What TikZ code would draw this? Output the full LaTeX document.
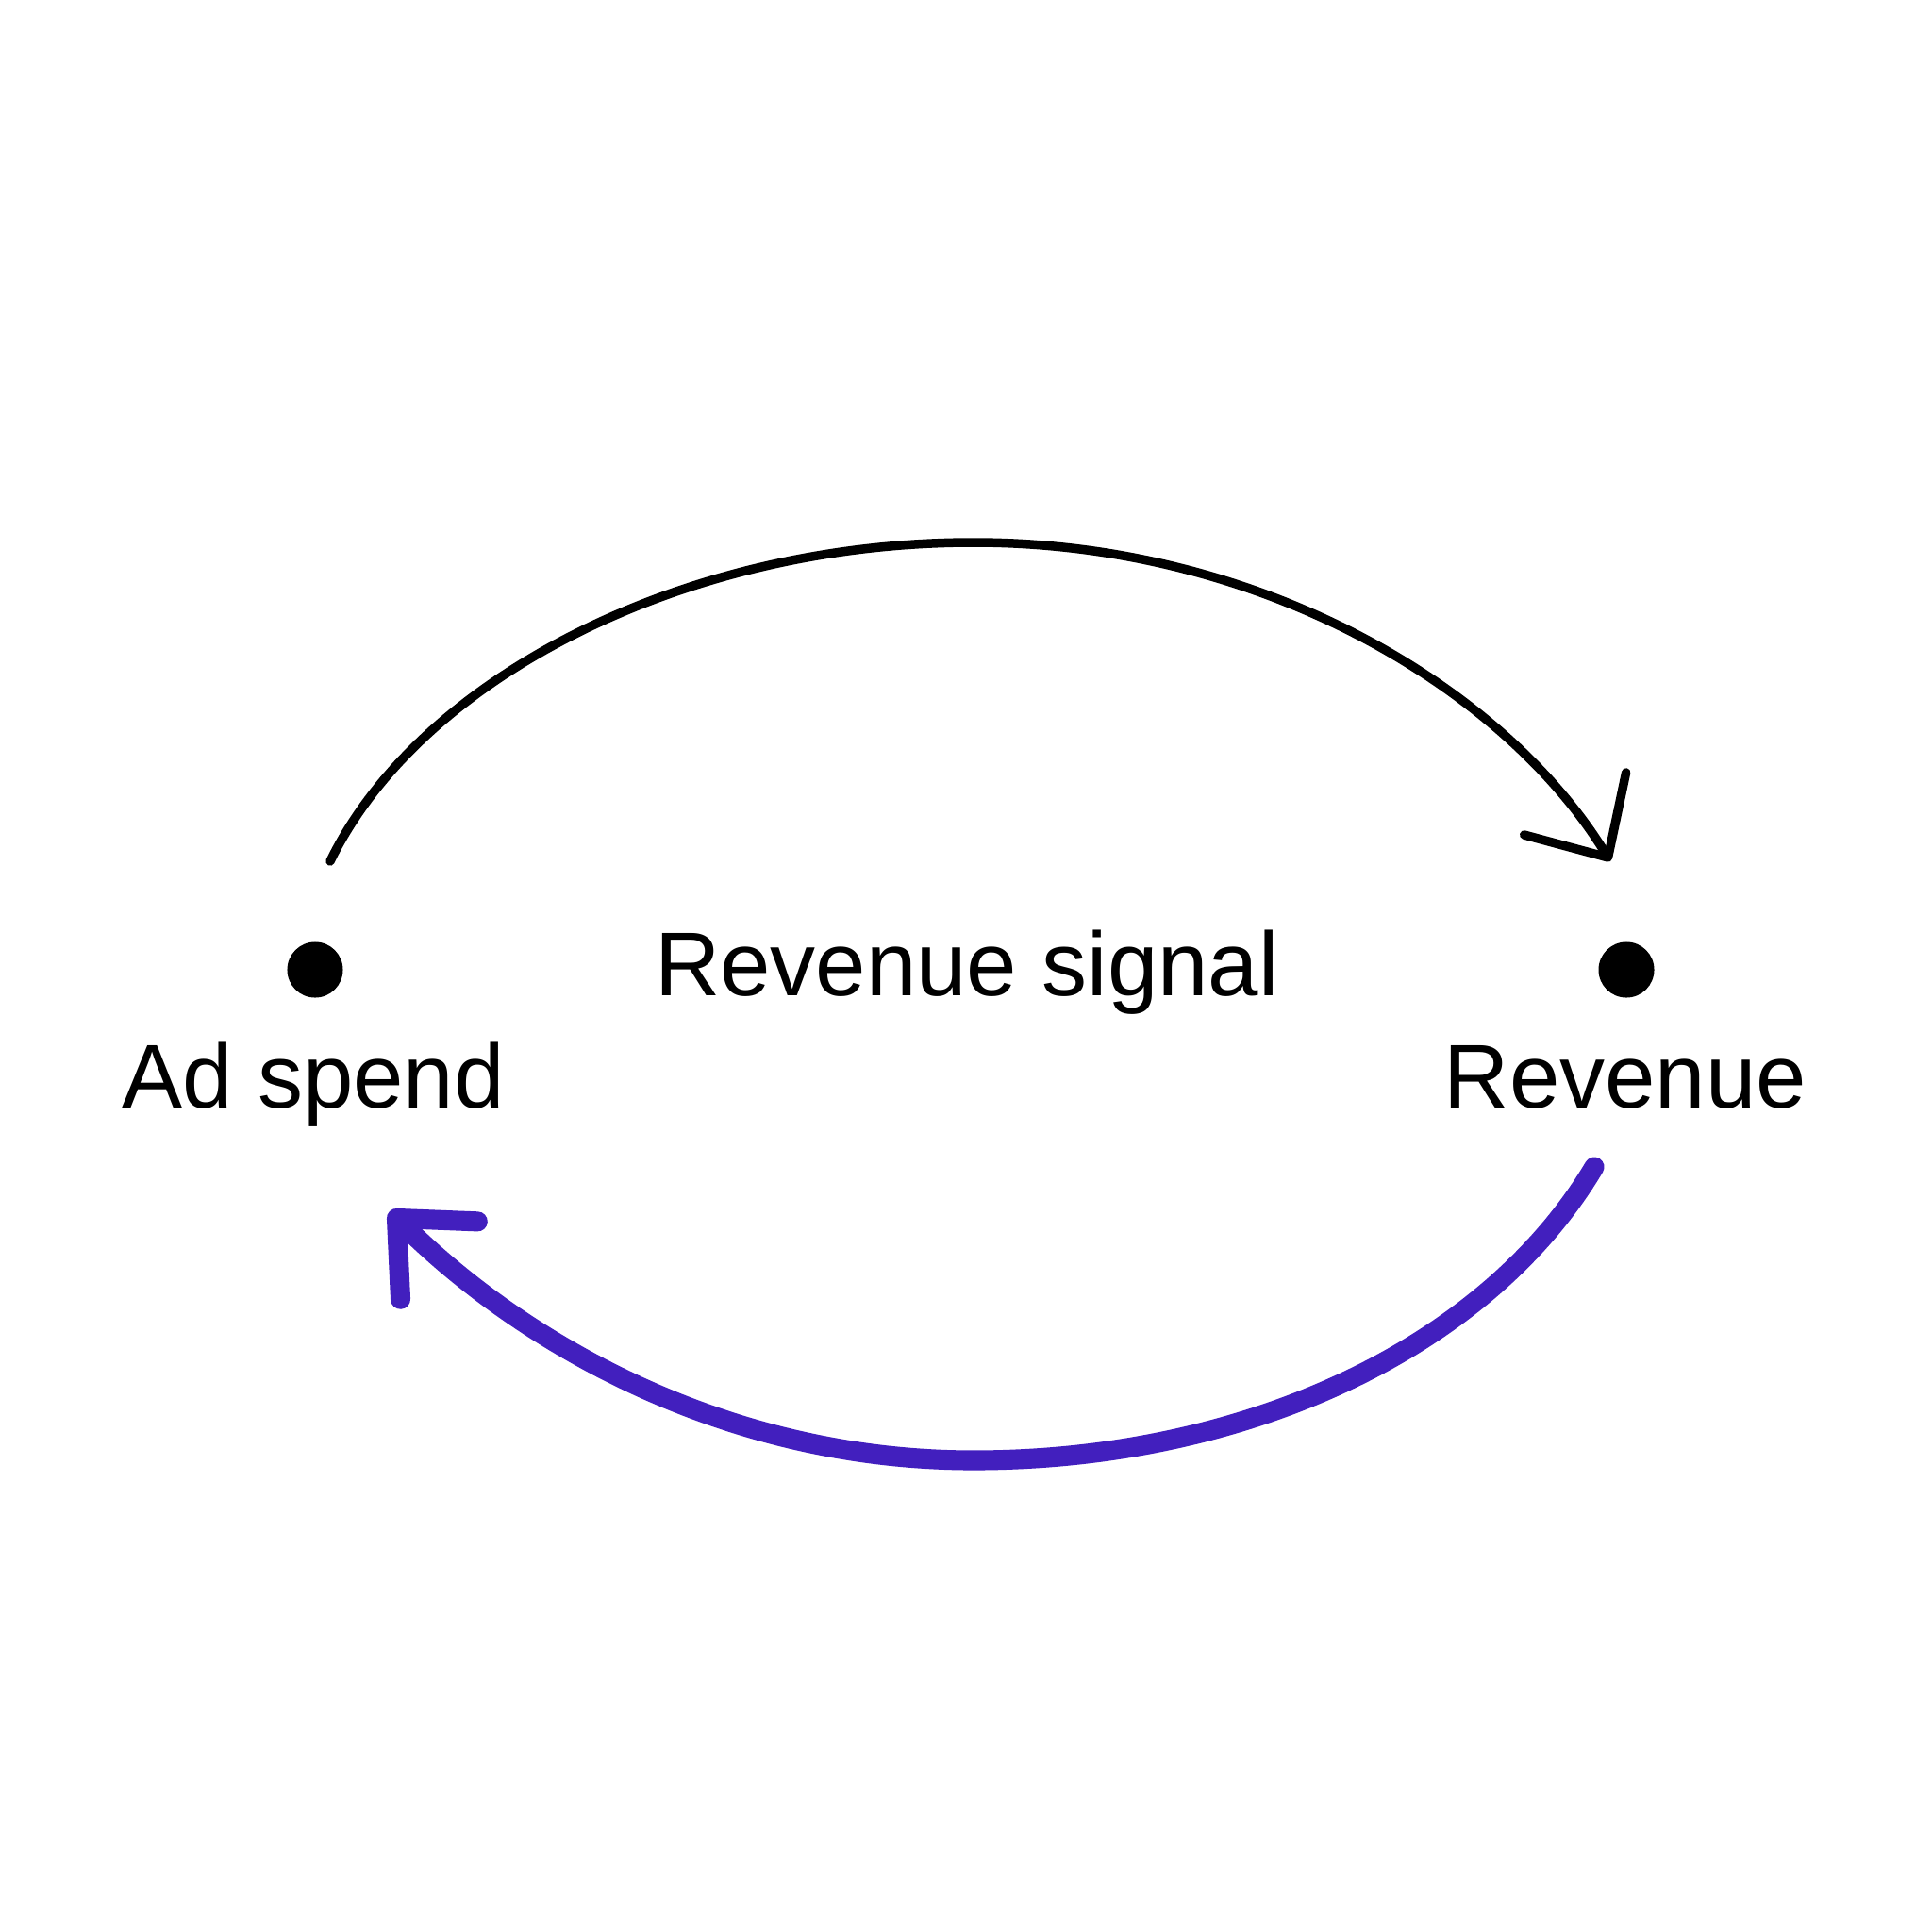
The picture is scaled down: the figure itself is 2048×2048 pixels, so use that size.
\documentclass[tikz,border=0pt]{standalone}
\usepackage{fontspec}
\setmainfont{Liberation Sans}
\usetikzlibrary{calc, positioning}
\usetikzlibrary{arrows.meta}

\definecolor{loopblue}{RGB}{66,31,190}

\begin{document}
\begin{tikzpicture}[x=0.01cm, y=-0.01cm,
  dot/.style={circle, fill=black, inner sep=0pt, minimum size=0.59cm},
  label/.style={font=\fontsize{27.3}{32}\selectfont, anchor=base, inner sep=0pt}]
\useasboundingbox (0,0) rectangle (2048,2048);

\node[dot] (spend) at (334,1028) {};
\node[dot] (rev) at (1724,1028) {};

\node[label] (spendlbl) at (332,1174) {Ad spend};
\node[label] (revlbl) at (1723,1174) {Revenue};
\node[label] (signal) at (1025,1055) {Revenue signal};

\coordinate (s1) at (350,913);
\coordinate (t1) at (1032,575);
\coordinate (e1) at (1707,913);
\coordinate (s2) at (1690,1237);
\coordinate (t2) at (1032,1548);
\coordinate (e2) at (413,1284);

\draw[line width=2.7pt, line cap=round, -{Straight Barb[round, length=19pt, width=36pt]}]
  (s1) .. controls (445,718) and (726,575) .. (t1)
  .. controls (1338,575) and (1595,730) .. (e1);

\draw[loopblue, line width=6pt, line cap=round, -{Straight Barb[round, length=18pt, width=33pt]}]
  (s2) .. controls (1574,1432) and (1316,1548) .. (t2)
  .. controls (765,1548) and (550,1420) .. (e2);
\end{tikzpicture}
\end{document}
